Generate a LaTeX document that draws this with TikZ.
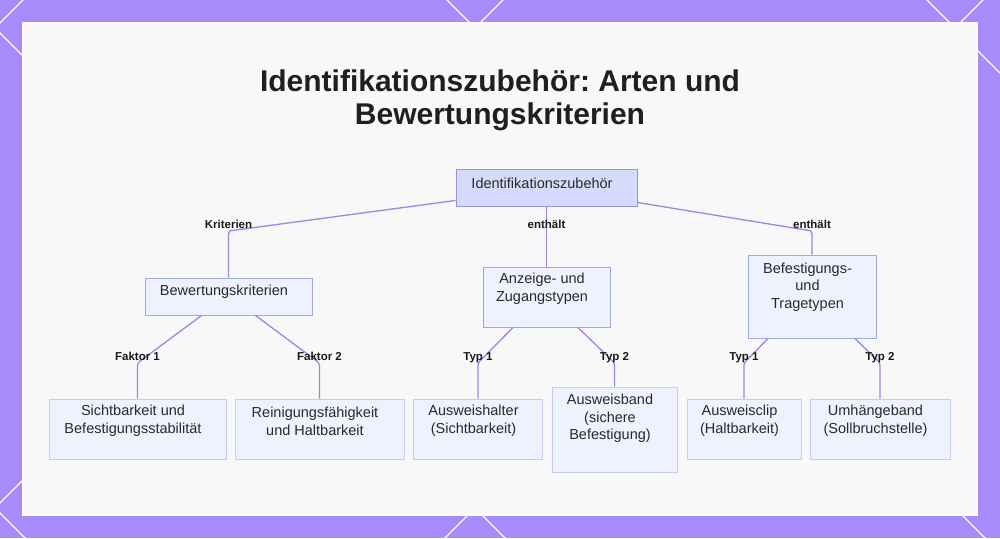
\documentclass[tikz,border=0pt]{standalone}
\usepackage{fontspec}
\setmainfont{Liberation Sans}
\usetikzlibrary{calc, positioning}
\frenchspacing

\definecolor{framepurple}{HTML}{A78BFA}
\definecolor{panelgray}{HTML}{F8F8F9}
\definecolor{linkviolet}{HTML}{9F85E3}
\definecolor{rootfill}{HTML}{D6DBFB}
\definecolor{rootdraw}{HTML}{8D99E6}
\definecolor{boxfill}{HTML}{EEF1FE}
\definecolor{boxdraw}{HTML}{9EA9EC}
\definecolor{leafdraw}{HTML}{C4CBF5}
\definecolor{inktext}{HTML}{2A2A2A}

\tikzset{
  box/.style={draw=boxdraw, fill=boxfill, line width=1pt, inner sep=0pt},
  rootbox/.style={box, draw=rootdraw, fill=rootfill},
  leafbox/.style={box, draw=leafdraw},
  boxtext/.style={align=center, font=\fontsize{14.5}{17.7}\selectfont, text=inktext, inner sep=0pt, xshift=-4.5pt},
  link/.style={draw=linkviolet, line width=1.3pt, rounded corners=2pt},
  linklabel/.style={font=\fontsize{11.5}{13}\selectfont\bfseries, text=black!90, inner sep=0pt, text height=8.3pt, text depth=0pt, yshift=6.5pt},
}

\begin{document}
\begin{tikzpicture}[x=1pt, y=-1pt]
\useasboundingbox (0,0) rectangle (1000,538);

% frame with white lattice
\fill[framepurple] (0,0) rectangle (1000,538);
\begin{scope}
\clip (0,0) rectangle (1000,538);
\foreach \k in {-1,...,2} {
  \draw[white, line width=1.2pt] ({-5+480*\k-40},-12) -- ({-5+480*\k+580},608);
  \draw[white, line width=1.2pt] ({-5+480*\k+40},-12) -- ({-5+480*\k-580},608);
}
\end{scope}
\fill[white] (22,22) rectangle (978,516);
\fill[panelgray] (24,24) rectangle (976,514);
\draw[white, line width=1pt, opacity=.8] (925,463) circle[radius=43];

% title
\node[font=\fontsize{30}{33}\selectfont\bfseries, align=center, text=black!88] (title) at (500,100.5)
  {Identifikationszubehör: Arten und\\Bewertungskriterien};

% boxes
\node[rootbox, minimum width=181pt, minimum height=37pt] (root) at (546.5,187.5) {};
\node[box, minimum width=167pt, minimum height=37pt] (bew) at (228.5,296.5) {};
\node[box, minimum width=127pt, minimum height=60pt] (anz) at (546.5,297) {};
\node[box, minimum width=128pt, minimum height=83pt] (bef) at (812,296.5) {};
\node[leafbox, minimum width=177pt, minimum height=60pt] (sicht) at (137.5,429) {};
\node[leafbox, minimum width=169pt, minimum height=60pt] (rein) at (319.5,429) {};
\node[leafbox, minimum width=129pt, minimum height=60pt] (halter) at (478,429) {};
\node[leafbox, minimum width=125pt, minimum height=85pt] (band) at (614.5,429.5) {};
\node[leafbox, minimum width=114pt, minimum height=60pt] (clip) at (744,429) {};
\node[leafbox, minimum width=140pt, minimum height=60pt] (umh) at (880,429) {};

% box texts
\node[boxtext] (root-t) at ([yshift=4.5pt]root.center) {Identifikationszubehör};
\node[boxtext] (bew-t) at ([yshift=4.8pt]bew.center) {Bewertungskriterien};
\node[boxtext] (anz-t) at ([yshift=8pt]anz.center) {Anzeige- und\\Zugangstypen};
\node[boxtext] (bef-t) at ([yshift=9.5pt]bef.center) {Befestigungs-\\und\\Tragetypen};
\node[boxtext] (sicht-t) at ([yshift=8pt]sicht.center) {Sichtbarkeit und\\Befestigungsstabilität};
\node[boxtext] (rein-t) at ([yshift=8pt]rein.center) {Reinigungsfähigkeit\\und Haltbarkeit};
\node[boxtext] (halter-t) at ([yshift=8pt]halter.center) {Ausweishalter\\(Sichtbarkeit)};
\node[boxtext] (band-t) at ([yshift=11pt]band.center) {Ausweisband\\(sichere\\Befestigung)};
\node[boxtext] (clip-t) at ([yshift=8pt]clip.center) {Ausweisclip\\(Haltbarkeit)};
\node[boxtext] (umh-t) at ([yshift=8pt]umh.center) {Umhängeband\\(Sollbruchstelle)};

% bend points
\coordinate (row1) at (0,231);
\coordinate (row2) at (0,363);
\coordinate (kBew) at (bew.north |- row1);
\coordinate (kAnz) at (anz.north |- row1);
\coordinate (kBef) at (bef.north |- row1);
\coordinate (kSicht) at (sicht.north |- row2);
\coordinate (kRein) at (rein.north |- row2);
\coordinate (kHalter) at (halter.north |- row2);
\coordinate (kBand) at (band.north |- row2);
\coordinate (kClip) at (clip.north |- row2);
\coordinate (kUmh) at (umh.north |- row2);

% links
\draw[link] ([yshift=6pt]root.south west) -- (kBew) -- (bew.north);
\draw[link] (root.south) -- (anz.north);
\draw[link] ([yshift=4pt]root.south east) -- (kBef) -- (bef.north);
\draw[link] ([xshift=-27pt]bew.south) -- (kSicht) -- (sicht.north);
\draw[link] ([xshift=27pt]bew.south) -- (kRein) -- (rein.north);
\draw[link] ([xshift=-33.5pt]anz.south) -- (kHalter) -- (halter.north);
\draw[link] ([xshift=31.5pt]anz.south) -- (kBand) -- (band.north);
\draw[link] ([xshift=-44pt]bef.south) -- (kClip) -- (clip.north);
\draw[link] ([xshift=43pt]bef.south) -- (kUmh) -- (umh.north);

% link labels
\node[linklabel] (lKrit) at (kBew) {Kriterien};
\node[linklabel] (lAnz) at (kAnz) {enthält};
\node[linklabel] (lBef) at (kBef) {enthält};
\node[linklabel] (lSicht) at (kSicht) {Faktor 1};
\node[linklabel] (lRein) at (kRein) {Faktor 2};
\node[linklabel] (lHalter) at (kHalter) {Typ 1};
\node[linklabel] (lBand) at (kBand) {Typ 2};
\node[linklabel] (lClip) at (kClip) {Typ 1};
\node[linklabel] (lUmh) at (kUmh) {Typ 2};

\end{tikzpicture}
\end{document}
